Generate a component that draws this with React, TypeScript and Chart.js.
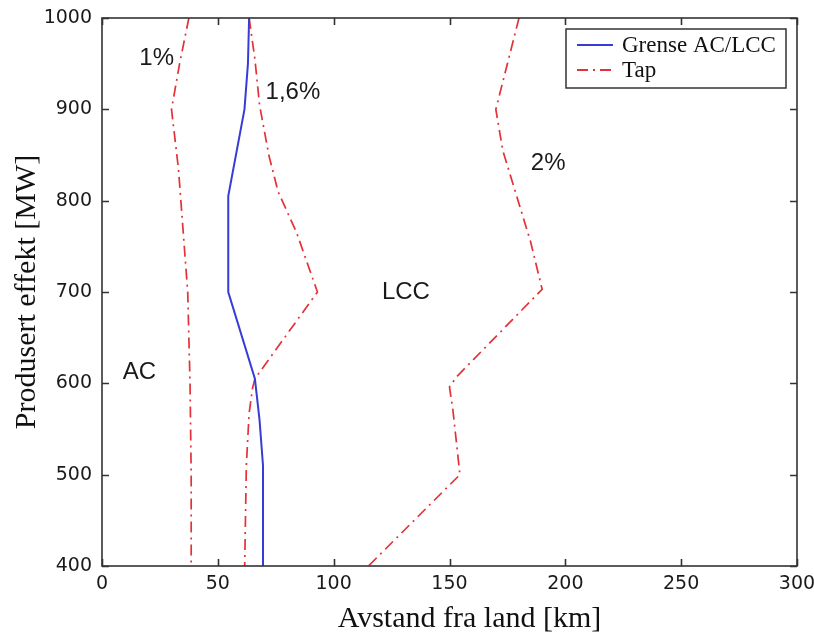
import React, { useEffect, useRef } from "react";
import { Chart, registerables } from "chart.js";

Chart.register(...registerables);

// ---- data (km from shore vs produced power MW) ----
const boundaryKm = [63.5, 63, 61.5, 54.5, 54.5, 66, 68, 69.5, 69.5];
const boundaryMW = [1000, 950, 900, 805, 700, 605, 560, 510, 400];

const loss1Km = [37.5, 33.5, 30, 33, 37, 38, 38.5, 38.5];
const loss1MW = [1000, 950, 900, 835, 700, 600, 500, 400];

const loss16Km = [63.5, 66, 68, 72, 76, 84, 93, 66, 65, 63.5, 62.3, 61.6];
const loss16MW = [1000, 955, 905, 850, 810, 765, 700, 605, 595, 567, 510, 400];

const loss2Km = [180, 175, 170, 173, 179, 185, 190, 153, 150, 151.5, 153, 154.5, 115];
const loss2MW = [1000, 950, 900, 855, 805, 755, 703, 607, 596, 570, 535, 500, 400];

const xTicks = [0, 50, 100, 150, 200, 250, 300];
const yTicks = [400, 500, 600, 700, 800, 900, 1000];

const annotationTexts = ["1%", "1,6%", "2%", "LCC", "AC"];
const annotationKm = [23.6, 82.4, 192.6, 131.2, 16.2];
const annotationMW = [956, 919, 841, 700, 612];

const legendLabels = ["Grense AC/LCC", "Tap"];
const xTitle = "Avstand fra land [km]";
const yTitle = "Produsert effekt [MW]";

const BLUE = "rgb(55, 60, 215)";
const RED = "rgb(226, 50, 55)";
const DASH = [11, 5, 2, 5];

const pts = (xs: number[], ys: number[]) => xs.map((x, i) => ({ x, y: ys[i] }));

const decorPlugin = {
  id: "decor",
  afterDraw(chart: any) {
    const { ctx, chartArea: a, scales } = chart;
    const xs = scales.x;
    const ys = scales.y;
    ctx.save();

    // box + inward ticks
    ctx.strokeStyle = "#333";
    ctx.lineWidth = 1.6;
    ctx.strokeRect(a.left, a.top, a.right - a.left, a.bottom - a.top);
    const tl = 7;
    ctx.beginPath();
    xTicks.forEach((v) => {
      const p = Math.round(xs.getPixelForValue(v)) + 0.5;
      ctx.moveTo(p, a.bottom);
      ctx.lineTo(p, a.bottom - tl);
      ctx.moveTo(p, a.top);
      ctx.lineTo(p, a.top + tl);
    });
    yTicks.forEach((v) => {
      const p = Math.round(ys.getPixelForValue(v)) + 0.5;
      ctx.moveTo(a.left, p);
      ctx.lineTo(a.left + tl, p);
      ctx.moveTo(a.right, p);
      ctx.lineTo(a.right - tl, p);
    });
    ctx.stroke();

    // annotations
    ctx.fillStyle = "#1a1a1a";
    ctx.font = "24px 'Liberation Sans', Arial, sans-serif";
    ctx.textAlign = "center";
    ctx.textBaseline = "middle";
    annotationTexts.forEach((t, i) => {
      ctx.fillText(t, xs.getPixelForValue(annotationKm[i]), ys.getPixelForValue(annotationMW[i]));
    });

    // legend box
    const bw = 220;
    const bh = 59;
    const bx = a.right - 11 - bw;
    const by = a.top + 11;
    ctx.fillStyle = "#ffffff";
    ctx.fillRect(bx, by, bw, bh);
    ctx.strokeStyle = "#333";
    ctx.lineWidth = 1.5;
    ctx.strokeRect(bx, by, bw, bh);
    const ds = chart.data.datasets;
    ctx.font = "23px 'Liberation Serif', 'Times New Roman', serif";
    ctx.textAlign = "left";
    ctx.textBaseline = "middle";
    legendLabels.forEach((lab, i) => {
      const yy = by + 16 + i * 25;
      ctx.beginPath();
      ctx.strokeStyle = ds[i].borderColor;
      ctx.lineWidth = 2;
      ctx.setLineDash(ds[i].borderDash || []);
      ctx.moveTo(bx + 11, yy);
      ctx.lineTo(bx + 47, yy);
      ctx.stroke();
      ctx.setLineDash([]);
      ctx.fillStyle = "#111";
      ctx.fillText(lab, bx + 56, yy + 1);
    });

    // x title
    ctx.font = "30px 'Liberation Serif', 'Times New Roman', serif";
    ctx.textAlign = "center";
    ctx.textBaseline = "middle";
    ctx.fillStyle = "#111";
    ctx.fillText(xTitle, (a.left + a.right) / 2 + 20, a.bottom + 53);

    ctx.restore();
  },
};

export default function App() {
  const ref = useRef<HTMLCanvasElement | null>(null);

  useEffect(() => {
    if (!ref.current) return;
    const common = { showLine: true, pointRadius: 0, pointHoverRadius: 0, fill: false, tension: 0 };
    const tickFont = { family: "'DejaVu Sans', sans-serif", size: 19 };
    const chart = new Chart(ref.current, {
      type: "scatter",
      data: {
        datasets: [
          { ...common, label: legendLabels[0], data: pts(boundaryKm, boundaryMW), borderColor: BLUE, borderWidth: 2 },
          { ...common, label: legendLabels[1], data: pts(loss1Km, loss1MW), borderColor: RED, borderWidth: 1.7, borderDash: DASH },
          { ...common, label: "Tap 1,6%", data: pts(loss16Km, loss16MW), borderColor: RED, borderWidth: 1.7, borderDash: DASH },
          { ...common, label: "Tap 2%", data: pts(loss2Km, loss2MW), borderColor: RED, borderWidth: 1.7, borderDash: DASH },
        ],
      },
      options: {
        responsive: false,
        animation: false,
        layout: { padding: { left: 0, top: 18, right: 17, bottom: 0 } },
        plugins: { legend: { display: false }, tooltip: { enabled: false } },
        scales: {
          x: {
            type: "linear",
            min: 0,
            max: 300,
            afterFit: (s: any) => { s.height = 70; s.paddingRight = 0; s.paddingLeft = 0; },
            afterBuildTicks: (s: any) => { s.ticks = xTicks.map((v) => ({ value: v })); },
            grid: { display: false, drawTicks: false },
            border: { display: false },
            ticks: { color: "#1a1a1a", padding: 7, font: tickFont, maxRotation: 0, callback: (v: any) => String(v) },
          },
          y: {
            type: "linear",
            min: 400,
            max: 1000,
            afterFit: (s: any) => { s.width = 102; s.paddingTop = 0; s.paddingBottom = 0; },
            afterBuildTicks: (s: any) => { s.ticks = yTicks.map((v) => ({ value: v })); },
            grid: { display: false, drawTicks: false },
            border: { display: false },
            ticks: { color: "#1a1a1a", padding: 10, font: tickFont, callback: (v: any) => String(v) },
            title: {
              display: true,
              text: yTitle,
              color: "#111",
              padding: { top: 9, bottom: 0 },
              font: { family: "'Liberation Serif', 'Times New Roman', serif", size: 30, weight: "normal" },
            },
          },
        },
      },
      plugins: [decorPlugin],
    } as any);
    return () => chart.destroy();
  }, []);

  return (
    <div style={{ position: "fixed", left: 0, top: 0, width: 814, height: 636, background: "#fff" }}>
      <canvas ref={ref} width={814} height={636} style={{ display: "block" }} />
    </div>
  );
}
